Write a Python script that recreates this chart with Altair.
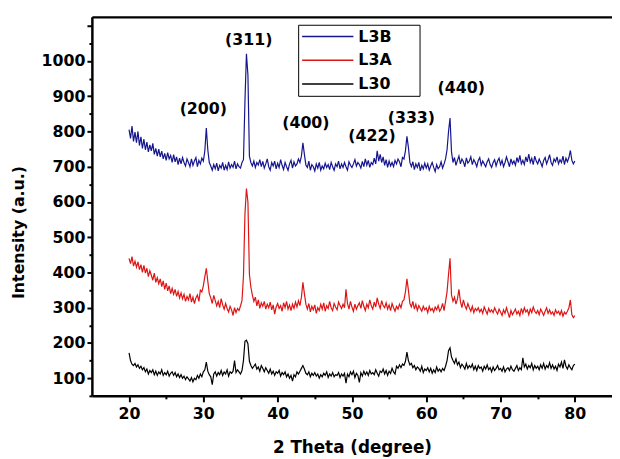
import altair as alt
import pandas as pd

# 2-theta sampling grid (degrees), 0.2 deg step from 20 to 80
theta = [round(20 + 0.2 * i, 1) for i in range(301)]

L3B = [
    805, 780, 815, 772, 798,  768, 800, 760, 785, 752,  778, 748, 770, 742, 762,
    745, 766, 735, 752, 730,  750, 728, 744, 722, 738,  718, 740, 722, 732, 712,
    734, 714, 728, 706, 724,  708, 726, 712, 702, 722,  712, 700, 722, 704, 716,
    726, 700, 718, 708, 724,  716, 745, 810, 748, 712,  702, 690, 706, 694, 710,
    688, 704, 696, 712, 690,  704, 692, 714, 696, 706,  698, 716, 694, 708, 700,
    696, 712, 720, 885, 1020, 960, 730, 712, 702, 716,  698, 712, 705, 720, 700,
    715, 696, 708, 722, 700,  690, 712, 702, 716, 694,  710, 698, 720, 704, 692,
    712, 700, 690, 708, 718,  696, 714, 702, 708, 722,  712, 730, 768, 735, 705,
    698, 716, 690, 706, 700,  688, 708, 696, 712, 690,  702, 694, 710, 698, 706,
    692, 712, 700, 690, 708,  700, 716, 694, 708, 698,  712, 700, 690, 714, 704,
    698, 708, 720, 702, 712,  706, 696, 715, 700, 722,  704, 718, 698, 712, 706,
    724, 708, 745, 716, 735,  712, 728, 704, 720, 698,  716, 702, 712, 700, 718,
    708, 722, 714, 700, 726,  722, 745, 786, 755, 712,  700, 714, 692, 708, 698,
    712, 688, 704, 694, 710,  696, 708, 690, 702, 712,  698, 686, 706, 694, 700,
    714, 696, 708, 722, 748,  800, 838, 742, 712, 726,  704, 718, 730, 708, 722,
    714, 700, 725, 710, 716,  728, 706, 720, 712, 700,  718, 726, 704, 716, 708,
    700, 714, 722, 706, 698,  712, 720, 702, 716, 724,  706, 718, 700, 712, 728,
    714, 700, 722, 708, 716,  704, 726, 712, 732, 708,  718, 706, 728, 714, 736,
    712, 724, 706, 730, 716,  708, 722, 712, 700, 718,  726, 708, 720, 734, 712,
    704, 722, 714, 728, 708,  720, 712, 730, 706, 724,  714, 726, 746, 718, 708,
    716,
]

L3A = [
    440, 425, 445, 418, 432,  415, 430, 408, 422, 400,  420, 398, 412, 388, 405,
    392, 378, 398, 372, 385,  368, 382, 360, 376, 352,  370, 348, 362, 340, 355,
    338, 352, 332, 346, 328,  342, 325, 338, 318, 332,  322, 340, 316, 330, 312,
    328, 336, 318, 350, 345,  362, 388, 412, 375, 340,  328, 312, 335, 320, 305,
    318, 300, 326, 308, 296,  312, 298, 288, 304, 294,  278, 300, 286, 298, 292,
    305, 320, 390, 565, 638,  600, 395, 358, 336, 318,  330, 305, 322, 298, 314,
    304, 318, 296, 310, 300,  316, 294, 308, 282, 302,  312, 298, 306, 290, 314,
    300, 318, 296, 308, 292,  310, 298, 316, 302, 320,  306, 330, 372, 340, 310,
    296, 312, 288, 304, 294,  308, 284, 300, 292, 310,  296, 314, 290, 306, 298,
    318, 300, 292, 312, 302,  294, 316, 306, 298, 310,  300, 352, 312, 296, 318,
    302, 290, 310, 296, 306,  314, 298, 320, 304, 292,  310, 300, 322, 306, 296,
    316, 302, 328, 310, 298,  320, 306, 300, 314, 296,  308, 292, 312, 300, 290,
    304, 296, 310, 300, 318,  322, 345, 382, 350, 312,  302, 318, 296, 310, 292,
    306, 298, 290, 304, 294,  300, 286, 304, 292, 298,  288, 302, 294, 306, 290,
    298, 312, 292, 318, 345,  395, 440, 336, 318, 330,  310, 325, 352, 318, 300,
    322, 306, 296, 312, 300,  290, 304, 286, 298, 292,  300, 288, 296, 284, 302,
    292, 282, 298, 288, 294,  286, 300, 290, 282, 296,  288, 278, 294, 284, 300,
    286, 272, 292, 280, 288,  296, 282, 290, 278, 298,  284, 300, 288, 294, 280,
    296, 286, 302, 290, 284,  292, 280, 296, 288, 278,  290, 300, 284, 294, 282,
    288, 278, 294, 284, 290,  280, 292, 276, 288, 282,  290, 300, 322, 280, 272,
    278,
]

L30 = [
    172, 150, 140, 136, 142,  132, 138, 128, 134, 124,  130, 118, 126, 112, 122,
    116, 124, 110, 120, 108,  118, 112, 124, 108, 116,  110, 120, 106, 114, 118,
    108, 116, 104, 112, 102,  110, 100, 106, 96, 104,   98, 92, 102, 90, 100,
    96, 108, 100, 112, 104,   118, 124, 146, 120, 110,  104, 82, 112, 118, 106,
    116, 110, 122, 108, 118,  112, 124, 106, 118, 114,  120, 150, 116, 124, 118,
    112, 122, 150, 205, 208,  198, 148, 136, 128, 134,  140, 126, 132, 120, 136,
    128, 118, 130, 122, 114,  126, 112, 120, 108, 118,  114, 122, 106, 116, 110,
    118, 104, 112, 100, 108,  92, 110, 104, 118, 112,   120, 128, 136, 126, 114,
    110, 118, 104, 114, 108,  116, 106, 112, 100, 110,  104, 114, 108, 118, 102,
    112, 106, 116, 104, 110,  108, 116, 102, 112, 106,  114, 86, 112, 104, 118,
    110, 120, 102, 114, 108,  88, 116, 106, 120, 110,   118, 108, 122, 112, 116,
    110, 124, 114, 106, 120,  116, 126, 112, 122, 108,  120, 114, 128, 118, 112,
    134, 128, 138, 130, 140,  136, 148, 174, 150, 138,  142, 130, 136, 124, 132,
    128, 120, 134, 116, 126,  122, 130, 118, 128, 114,  124, 116, 132, 120, 126,
    118, 128, 122, 134, 150,  178, 186, 160, 150, 142,  155, 138, 146, 130, 140,
    134, 126, 142, 128, 136,  130, 140, 124, 134, 122,  136, 128, 132, 120, 134,
    126, 138, 124, 130, 118,  132, 122, 128, 136, 124,  128, 120, 132, 118, 126,
    130, 122, 134, 124, 120,  128, 136, 122, 130, 124,  158, 132, 140, 126, 136,
    130, 142, 124, 136, 128,  134, 124, 138, 128, 142,  126, 136, 130, 144, 128,
    138, 126, 134, 122, 140,  132, 146, 128, 152, 134,  126, 138, 130, 124, 136,
    140,
]

series_names = ["L3B", "L3A", "L30"]
series_colors = ["#15158f", "#dd1414", "#000000"]

peak_hkl = ["(200)", "(311)", "(400)", "(422)", "(333)", "(440)"]
peak_x = [30.0, 36.1, 43.8, 52.7, 58.0, 64.7]
peak_y = [864, 1058, 825, 788, 839, 923]

x_ticks = list(range(20, 81, 5))
y_ticks = list(range(50, 1101, 50))

rows = []
for name, vals in zip(series_names, [L3B, L3A, L30]):
    assert len(vals) == len(theta), (name, len(vals))
    for t, v in zip(theta, vals):
        rows.append({"theta": t, "intensity": v, "sample": name})
df = pd.DataFrame(rows)
peaks = pd.DataFrame({"hkl": peak_hkl, "pos": peak_x, "inten": peak_y})

FONT = "DejaVu Sans"
xscale = alt.Scale(domain=[15, 85], nice=False, zero=False)
yscale = alt.Scale(domain=[50, 1125], nice=False, zero=False)

# blank (non-whitespace) filler so the legend box is as wide as in the reference
FILL = "\u2800" * 2

lines = alt.Chart(df).mark_line(strokeWidth=1.2).encode(
    x=alt.X("theta:Q", scale=xscale, axis=alt.Axis(
        title="2 Theta (degree)", values=x_ticks,
        labelExpr="datum.value % 10 === 0 ? datum.label : ''",
        tickSize={"condition": {"test": "datum.value % 10 !== 0", "value": 3}, "value": 6},
        tickWidth=2, tickColor="black", domainColor="black", domainWidth=2.5,
        labelFont=FONT, labelFontSize=16, labelFontWeight="bold", labelColor="black",
        labelPadding=4, grid=False,
        titleFont=FONT, titleFontSize=17, titleFontWeight="bold", titleColor="black",
        titleY=52, titleBaseline="middle")),
    y=alt.Y("intensity:Q", scale=yscale, axis=alt.Axis(
        title="Intensity (a.u.)", values=y_ticks, format="d",
        labelExpr="(datum.value % 100 === 0 && datum.value <= 1000) ? datum.label : ''",
        tickSize={"condition": {"test": "datum.value % 100 !== 0", "value": 3}, "value": 5},
        tickWidth=2, tickColor="black", domainColor="black", domainWidth=2.5,
        labelFont=FONT, labelFontSize=16, labelFontWeight="bold", labelColor="black",
        labelPadding=2, grid=False,
        titleFont=FONT, titleFontSize=16, titleFontWeight="bold", titleColor="black",
        titleX=-74, titleY=218, titleAlign="center", titleBaseline="middle")),
    color=alt.Color("sample:N", scale=alt.Scale(domain=series_names, range=series_colors),
                    sort=series_names,
                    legend=alt.Legend(
                        title=None, orient="none", legendX=209, legendY=8,
                        symbolType="stroke", symbolSize=2700, symbolStrokeWidth=1.5,
                        clipHeight=18, rowPadding=6, padding=3,
                        strokeColor="black", labelOffset=4, labelLimit=300,
                        labelExpr="datum.label + '" + FILL + "'",
                        labelFont=FONT, labelFontSize=16, labelFontWeight="bold",
                        labelColor="black")),
    order=alt.Order("theta:Q"),
)

labels = alt.Chart(peaks).mark_text(
    font=FONT, fontSize=16, fontWeight="bold", color="black",
    align="center", baseline="middle",
).encode(
    x=alt.X("pos:Q", scale=xscale, axis=alt.Axis(
        orient="top", labels=False, ticks=False, title=None, grid=False,
        domainColor="black", domainWidth=2.5)),
    y=alt.Y("inten:Q", scale=yscale, axis=None),
    text="hkl:N",
)

chart = alt.layer(lines, labels).resolve_axis(x="independent", y="independent").properties(
    width=527, height=384,
    autosize=alt.AutoSizeParams(type="none"),
    padding={"left": 85, "top": 6, "right": 0, "bottom": 62},
).configure_view(stroke=None).configure(background="white")

chart.save("out.html", embed_options={"renderer": "svg", "actions": False})
